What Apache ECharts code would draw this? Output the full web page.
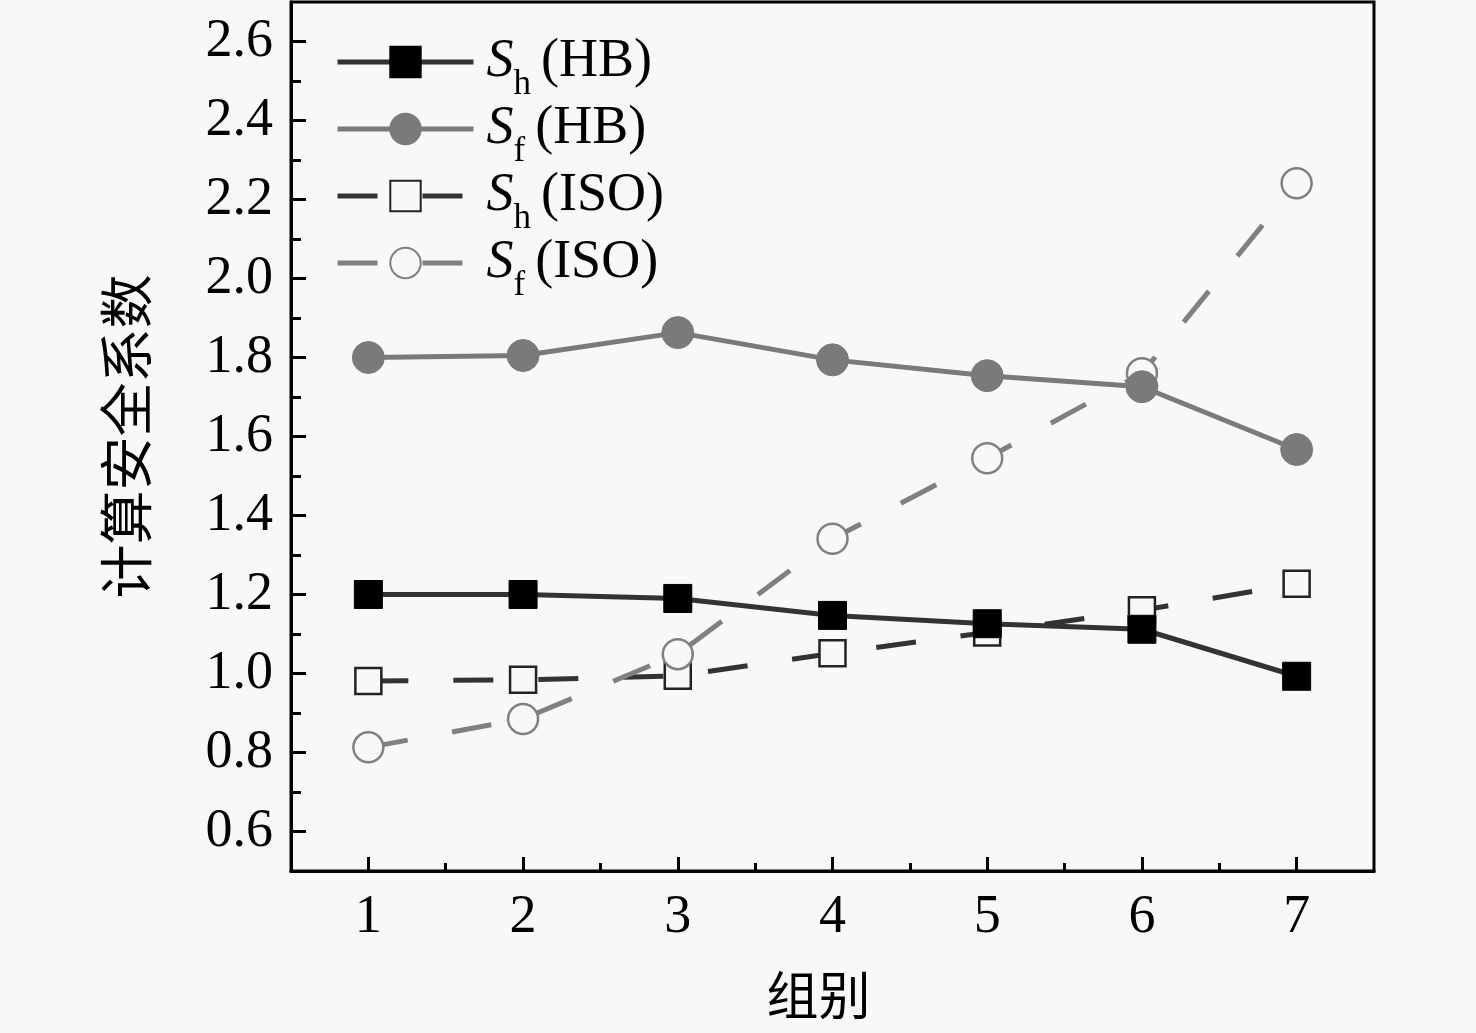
<!DOCTYPE html>
<html>
<head>
<meta charset="utf-8">
<script src="https://cdn.jsdelivr.net/npm/echarts@6/dist/echarts.min.js"></script>
<style>
  html, body { margin: 0; padding: 0; background: #f8f8f8; }
  #chart { width: 1476px; height: 1033px; }
</style>
</head>
<body>
<div id="chart"></div>
<script>
// 组别 and the four safety-factor curves
const groups = [1, 2, 3, 4, 5, 6, 7]
const shHB = [1.20, 1.20, 1.19, 1.147, 1.126, 1.112, 0.993]
const sfHB = [1.80, 1.805, 1.863, 1.794, 1.754, 1.726, 1.567]
const shISO = [0.981, 0.984, 0.994, 1.051, 1.104, 1.160, 1.227]
const sfISO = [0.813, 0.885, 1.049, 1.341, 1.545, 1.760, 2.241]

const yLabels = [0.6, 0.8, 1.0, 1.2, 1.4, 1.6, 1.8, 2.0, 2.2, 2.4, 2.6]
const yMinor = [0.7, 0.9, 1.1, 1.3, 1.5, 1.7, 1.9, 2.1, 2.3, 2.5]
const xMinor = [1.5, 2.5, 3.5, 4.5, 5.5, 6.5]

const seriesNames = ['Sh(HB)', 'Sf(HB)', 'Sh(ISO)', 'Sf(ISO)']
const legendText = {
  'Sh(HB)': '{i|S}{s|h}{t|(HB)}',
  'Sf(HB)': '{i|S}{s|f}{t|(HB)}',
  'Sh(ISO)': '{i|S}{s|h}{t|(ISO)}',
  'Sf(ISO)': '{i|S}{s|f}{t|(ISO)}'
}

const bg = '#f8f8f8'
const serif = '"Liberation Serif", "Times New Roman", serif'
const cjk = '"Noto Sans CJK SC", sans-serif'

function pairs(vals) {
  return groups.map((g, i) => [g, vals[i]])
}

const chart = echarts.init(document.getElementById('chart'))

const option = {
  backgroundColor: bg,
  animation: false,
  grid: {
    left: 291, right: 102, top: 2, bottom: 162,
    show: true, borderColor: '#000', borderWidth: 3, backgroundColor: 'transparent'
  },
  legend: {
    orient: 'vertical',
    left: 335, top: 35, padding: 0,
    itemWidth: 136, itemHeight: 38, itemGap: 0,
    data: seriesNames,
    formatter: n => legendText[n],
    lineStyle: { width: 5 },
    textStyle: {
      color: '#000',
      rich: {
        i: { fontFamily: serif, fontStyle: 'italic', fontSize: 54, lineHeight: 54, verticalAlign: 'top', padding: [0, 0, 0, 8] },
        s: { fontFamily: serif, fontSize: 35, lineHeight: 35, verticalAlign: 'top', padding: [32, 10, 0, 0] },
        t: { fontFamily: serif, fontSize: 54, lineHeight: 54, verticalAlign: 'top' }
      }
    }
  },
  xAxis: [{
    type: 'value', min: 0.5, max: 7.5, position: 'bottom',
    name: '组别', nameLocation: 'middle', nameGap: 98,
    nameTextStyle: { fontFamily: cjk, fontSize: 52, color: '#000', padding: [0, 28, 0, 0] },
    axisLine: { show: true, lineStyle: { color: '#000', width: 3 } },
    axisTick: { show: true, inside: true, length: 14, lineStyle: { color: '#000', width: 3 }, customValues: groups },
    axisLabel: { show: true, margin: 20, fontFamily: serif, fontSize: 54, color: '#000', customValues: groups },
    splitLine: { show: false }
  }, {
    type: 'value', min: 0.5, max: 7.5, position: 'bottom',
    axisLine: { show: false },
    axisTick: { show: true, inside: true, length: 8, lineStyle: { color: '#000', width: 3 }, customValues: xMinor },
    axisLabel: { show: false },
    splitLine: { show: false }
  }],
  yAxis: [{
    type: 'value', min: 0.5, max: 2.7, position: 'left',
    name: '计算安全系数', nameLocation: 'middle', nameGap: 138, nameRotate: 90,
    nameTextStyle: { fontFamily: cjk, fontSize: 54, color: '#000' },
    axisLine: { show: true, lineStyle: { color: '#000', width: 3 } },
    axisTick: { show: true, inside: true, length: 15, lineStyle: { color: '#000', width: 3 }, customValues: yLabels },
    axisLabel: {
      show: true, margin: 18, fontFamily: serif, fontSize: 54, color: '#000',
      customValues: yLabels, formatter: v => v.toFixed(1)
    },
    splitLine: { show: false }
  }, {
    type: 'value', min: 0.5, max: 2.7, position: 'left',
    axisLine: { show: false },
    axisTick: { show: true, inside: true, length: 10, lineStyle: { color: '#000', width: 3 }, customValues: yMinor },
    axisLabel: { show: false },
    splitLine: { show: false }
  }],
  series: [{
    name: 'Sh(HB)', type: 'line', z: 5, data: pairs(shHB),
    symbol: 'rect', symbolSize: 28,
    lineStyle: { color: '#333', width: 5 },
    itemStyle: { color: '#000', borderColor: '#000', borderWidth: 1 }
  }, {
    name: 'Sf(HB)', type: 'line', z: 5, data: pairs(sfHB),
    symbol: 'circle', symbolSize: 32,
    lineStyle: { color: '#7a7a7a', width: 5 },
    itemStyle: { color: '#7a7a7a', borderColor: '#7a7a7a', borderWidth: 1 }
  }, {
    name: 'Sh(ISO)', type: 'line', z: 3, data: pairs(shISO),
    symbol: 'rect', symbolSize: 26,
    lineStyle: { color: '#333', width: 5, type: [40, 45] },
    itemStyle: { color: bg, borderColor: '#222', borderWidth: 2.5 }
  }, {
    name: 'Sf(ISO)', type: 'line', z: 4, data: pairs(sfISO),
    symbol: 'circle', symbolSize: 30,
    lineStyle: { color: '#808080', width: 5, type: [40, 45] },
    itemStyle: { color: bg, borderColor: '#808080', borderWidth: 2.5 }
  }]
}

chart.setOption(option)

window.onresize = function () {
  chart.resize()
}
</script>
</body>
</html>
